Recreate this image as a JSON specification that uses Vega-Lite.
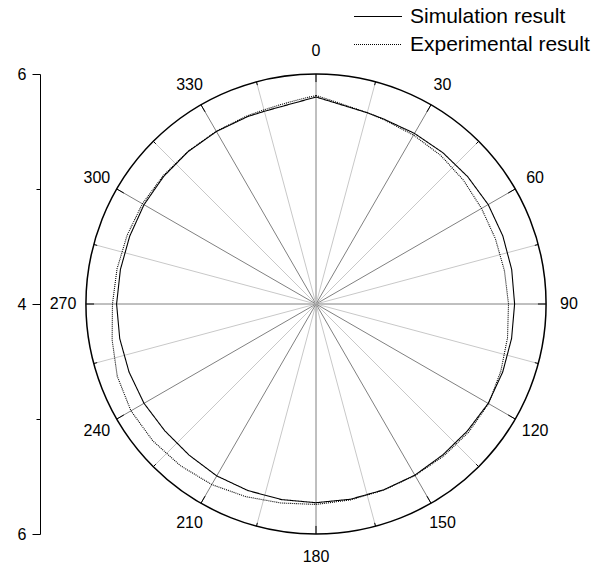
{
  "$schema": "https://vega.github.io/schema/vega-lite/v6.json",
  "width": 552,
  "height": 460,
  "autosize": {"type": "none"},
  "padding": {"left": 40, "top": 74, "right": 14, "bottom": 31},
  "background": "white",
  "config": {
    "view": {"stroke": null},
    "font": "Liberation Sans",
    "axis": {
      "grid": false,
      "domainColor": "black", "domainWidth": 1,
      "tickColor": "black", "tickWidth": 1,
      "labelFontSize": 16, "labelColor": "black", "labelFont": "Liberation Sans",
      "labelPadding": 6
    }
  },
  "datasets": {
    "curves": [
      {"series": "Simulation result", "angle": 0, "value": 5.800},
      {"series": "Simulation result", "angle": 5, "value": 5.760},
      {"series": "Simulation result", "angle": 10, "value": 5.734},
      {"series": "Simulation result", "angle": 15, "value": 5.722},
      {"series": "Simulation result", "angle": 20, "value": 5.713},
      {"series": "Simulation result", "angle": 30, "value": 5.713},
      {"series": "Simulation result", "angle": 40, "value": 5.717},
      {"series": "Simulation result", "angle": 50, "value": 5.722},
      {"series": "Simulation result", "angle": 60, "value": 5.729},
      {"series": "Simulation result", "angle": 70, "value": 5.729},
      {"series": "Simulation result", "angle": 80, "value": 5.728},
      {"series": "Simulation result", "angle": 90, "value": 5.727},
      {"series": "Simulation result", "angle": 100, "value": 5.727},
      {"series": "Simulation result", "angle": 110, "value": 5.728},
      {"series": "Simulation result", "angle": 120, "value": 5.729},
      {"series": "Simulation result", "angle": 130, "value": 5.718},
      {"series": "Simulation result", "angle": 140, "value": 5.714},
      {"series": "Simulation result", "angle": 150, "value": 5.719},
      {"series": "Simulation result", "angle": 160, "value": 5.720},
      {"series": "Simulation result", "angle": 170, "value": 5.724},
      {"series": "Simulation result", "angle": 180, "value": 5.728},
      {"series": "Simulation result", "angle": 190, "value": 5.727},
      {"series": "Simulation result", "angle": 200, "value": 5.727},
      {"series": "Simulation result", "angle": 210, "value": 5.726},
      {"series": "Simulation result", "angle": 220, "value": 5.716},
      {"series": "Simulation result", "angle": 230, "value": 5.716},
      {"series": "Simulation result", "angle": 240, "value": 5.727},
      {"series": "Simulation result", "angle": 250, "value": 5.730},
      {"series": "Simulation result", "angle": 260, "value": 5.733},
      {"series": "Simulation result", "angle": 270, "value": 5.734},
      {"series": "Simulation result", "angle": 280, "value": 5.727},
      {"series": "Simulation result", "angle": 290, "value": 5.724},
      {"series": "Simulation result", "angle": 300, "value": 5.727},
      {"series": "Simulation result", "angle": 310, "value": 5.728},
      {"series": "Simulation result", "angle": 320, "value": 5.730},
      {"series": "Simulation result", "angle": 330, "value": 5.732},
      {"series": "Simulation result", "angle": 340, "value": 5.735},
      {"series": "Simulation result", "angle": 345, "value": 5.735},
      {"series": "Simulation result", "angle": 350, "value": 5.743},
      {"series": "Simulation result", "angle": 355, "value": 5.764},
      {"series": "Simulation result", "angle": 360, "value": 5.800},
      {"series": "Experimental result", "angle": 0, "value": 5.813},
      {"series": "Experimental result", "angle": 5, "value": 5.770},
      {"series": "Experimental result", "angle": 10, "value": 5.739},
      {"series": "Experimental result", "angle": 15, "value": 5.722},
      {"series": "Experimental result", "angle": 20, "value": 5.709},
      {"series": "Experimental result", "angle": 30, "value": 5.696},
      {"series": "Experimental result", "angle": 40, "value": 5.687},
      {"series": "Experimental result", "angle": 50, "value": 5.674},
      {"series": "Experimental result", "angle": 60, "value": 5.662},
      {"series": "Experimental result", "angle": 70, "value": 5.660},
      {"series": "Experimental result", "angle": 80, "value": 5.664},
      {"series": "Experimental result", "angle": 90, "value": 5.674},
      {"series": "Experimental result", "angle": 100, "value": 5.691},
      {"series": "Experimental result", "angle": 110, "value": 5.710},
      {"series": "Experimental result", "angle": 120, "value": 5.733},
      {"series": "Experimental result", "angle": 130, "value": 5.733},
      {"series": "Experimental result", "angle": 140, "value": 5.726},
      {"series": "Experimental result", "angle": 150, "value": 5.722},
      {"series": "Experimental result", "angle": 160, "value": 5.722},
      {"series": "Experimental result", "angle": 170, "value": 5.730},
      {"series": "Experimental result", "angle": 180, "value": 5.743},
      {"series": "Experimental result", "angle": 190, "value": 5.757},
      {"series": "Experimental result", "angle": 200, "value": 5.783},
      {"series": "Experimental result", "angle": 210, "value": 5.813},
      {"series": "Experimental result", "angle": 220, "value": 5.835},
      {"series": "Experimental result", "angle": 230, "value": 5.852},
      {"series": "Experimental result", "angle": 240, "value": 5.858},
      {"series": "Experimental result", "angle": 250, "value": 5.839},
      {"series": "Experimental result", "angle": 260, "value": 5.800},
      {"series": "Experimental result", "angle": 270, "value": 5.770},
      {"series": "Experimental result", "angle": 280, "value": 5.757},
      {"series": "Experimental result", "angle": 290, "value": 5.748},
      {"series": "Experimental result", "angle": 300, "value": 5.743},
      {"series": "Experimental result", "angle": 310, "value": 5.735},
      {"series": "Experimental result", "angle": 320, "value": 5.732},
      {"series": "Experimental result", "angle": 330, "value": 5.735},
      {"series": "Experimental result", "angle": 340, "value": 5.743},
      {"series": "Experimental result", "angle": 345, "value": 5.748},
      {"series": "Experimental result", "angle": 350, "value": 5.761},
      {"series": "Experimental result", "angle": 355, "value": 5.783},
      {"series": "Experimental result", "angle": 360, "value": 5.813}
    ],
    "spokes": [
      {"angle": 0, "kind": "major"}, {"angle": 15, "kind": "minor"},
      {"angle": 30, "kind": "major"}, {"angle": 45, "kind": "minor"},
      {"angle": 60, "kind": "major"}, {"angle": 75, "kind": "minor"},
      {"angle": 90, "kind": "major"}, {"angle": 105, "kind": "minor"},
      {"angle": 120, "kind": "major"}, {"angle": 135, "kind": "minor"},
      {"angle": 150, "kind": "major"}, {"angle": 165, "kind": "minor"},
      {"angle": 180, "kind": "major"}, {"angle": 195, "kind": "minor"},
      {"angle": 210, "kind": "major"}, {"angle": 225, "kind": "minor"},
      {"angle": 240, "kind": "major"}, {"angle": 255, "kind": "minor"},
      {"angle": 270, "kind": "major"}, {"angle": 285, "kind": "minor"},
      {"angle": 300, "kind": "major"}, {"angle": 315, "kind": "minor"},
      {"angle": 330, "kind": "major"}, {"angle": 345, "kind": "minor"}
    ],
    "labels": [
      {"angle": 0}, {"angle": 30}, {"angle": 60}, {"angle": 90},
      {"angle": 120}, {"angle": 150}, {"angle": 180}, {"angle": 210},
      {"angle": 240}, {"angle": 270}, {"angle": 300}, {"angle": 330}
    ]
  },
  "layer": [
    {
      "data": {"name": "spokes"},
      "transform": [
        {"calculate": "0", "as": "x"},
        {"calculate": "0", "as": "y"},
        {"calculate": "2*sin(datum.angle*PI/180)", "as": "x2"},
        {"calculate": "2*cos(datum.angle*PI/180)", "as": "y2"}
      ],
      "mark": {"type": "rule", "strokeWidth": 1},
      "encoding": {
        "x": {"field": "x", "type": "quantitative", "scale": {"domain": [-2.4, 2.4]}, "axis": null},
        "y": {
          "field": "y", "type": "quantitative", "scale": {"domain": [-2, 2]},
          "axis": {
            "title": null, "orient": "left", "values": [-2, -1, 0, 1, 2],
            "labelExpr": "datum.value == 0 ? '4' : (abs(datum.value) == 2 ? '6' : '')",
            "labelFontSize": 16, "labelFont": "Liberation Sans", "labelColor": "black", "labelPadding": 6,
            "tickSize": {"condition": {"test": "abs(datum.value) == 1", "value": 4}, "value": 8}
          }
        },
        "x2": {"field": "x2"},
        "y2": {"field": "y2"},
        "color": {"condition": {"test": "datum.kind === 'major'", "value": "#808080"}, "value": "#c8c8c8"}
      }
    },
    {
      "data": {"name": "spokes"},
      "transform": [
        {"calculate": "datum.kind === 'major' ? 1.93 : 1.97", "as": "r0"},
        {"calculate": "datum.r0*sin(datum.angle*PI/180)", "as": "x"},
        {"calculate": "datum.r0*cos(datum.angle*PI/180)", "as": "y"},
        {"calculate": "2*sin(datum.angle*PI/180)", "as": "x2"},
        {"calculate": "2*cos(datum.angle*PI/180)", "as": "y2"}
      ],
      "mark": {"type": "rule", "strokeWidth": 1, "color": "black"},
      "encoding": {
        "x": {"field": "x", "type": "quantitative", "scale": {"domain": [-2.4, 2.4]}, "axis": null},
        "y": {
          "field": "y", "type": "quantitative", "scale": {"domain": [-2, 2]},
          "axis": {
            "title": null, "orient": "left", "values": [-2, -1, 0, 1, 2],
            "labelExpr": "datum.value == 0 ? '4' : (abs(datum.value) == 2 ? '6' : '')",
            "labelFontSize": 16, "labelFont": "Liberation Sans", "labelColor": "black", "labelPadding": 6,
            "tickSize": {"condition": {"test": "abs(datum.value) == 1", "value": 4}, "value": 8}
          }
        },
        "x2": {"field": "x2"},
        "y2": {"field": "y2"}
      }
    },
    {
      "data": {"values": [{"r": 2, "t": 1}]},
      "mark": {"type": "arc", "filled": false, "stroke": "black", "strokeWidth": 1.5},
      "encoding": {
        "theta": {"field": "t", "type": "quantitative"},
        "radius": {"field": "r", "type": "quantitative", "scale": {"type": "linear", "domain": [0, 2], "range": [0, 230]}}
      }
    },
    {
      "data": {"name": "curves"},
      "transform": [
        {"calculate": "(datum.value-4)*sin(datum.angle*PI/180)", "as": "x"},
        {"calculate": "(datum.value-4)*cos(datum.angle*PI/180)", "as": "y"}
      ],
      "mark": {"type": "line", "color": "black", "strokeWidth": 1.1},
      "encoding": {
        "x": {"field": "x", "type": "quantitative", "scale": {"domain": [-2.4, 2.4]}, "axis": null},
        "y": {
          "field": "y", "type": "quantitative", "scale": {"domain": [-2, 2]},
          "axis": {
            "title": null, "orient": "left", "values": [-2, -1, 0, 1, 2],
            "labelExpr": "datum.value == 0 ? '4' : (abs(datum.value) == 2 ? '6' : '')",
            "labelFontSize": 16, "labelFont": "Liberation Sans", "labelColor": "black", "labelPadding": 6,
            "tickSize": {"condition": {"test": "abs(datum.value) == 1", "value": 4}, "value": 8}
          }
        },
        "order": {"field": "angle", "type": "quantitative"},
        "strokeDash": {
          "field": "series", "type": "nominal",
          "scale": {"domain": ["Simulation result", "Experimental result"], "range": [[1, 0], [1, 1]]},
          "legend": {
            "title": null, "orient": "none", "legendX": 313, "legendY": -68,
            "padding": 0, "symbolType": "stroke", "symbolSize": 2304,
            "symbolStrokeColor": "black", "symbolStrokeWidth": 1.2,
            "clipHeight": 21, "rowPadding": 6, "labelOffset": 7, "labelLimit": 400,
            "labelFontSize": 21, "labelFont": "Liberation Sans", "labelColor": "black"
          }
        }
      }
    },
    {
      "data": {"name": "labels"},
      "transform": [
        {"calculate": "2.2*sin(datum.angle*PI/180)", "as": "x"},
        {"calculate": "2.2*cos(datum.angle*PI/180)", "as": "y"}
      ],
      "mark": {"type": "text", "fontSize": 16, "font": "Liberation Sans", "color": "black", "align": "center", "baseline": "middle"},
      "encoding": {
        "x": {"field": "x", "type": "quantitative", "scale": {"domain": [-2.4, 2.4]}, "axis": null},
        "y": {
          "field": "y", "type": "quantitative", "scale": {"domain": [-2, 2]},
          "axis": {
            "title": null, "orient": "left", "values": [-2, -1, 0, 1, 2],
            "labelExpr": "datum.value == 0 ? '4' : (abs(datum.value) == 2 ? '6' : '')",
            "labelFontSize": 16, "labelFont": "Liberation Sans", "labelColor": "black", "labelPadding": 6,
            "tickSize": {"condition": {"test": "abs(datum.value) == 1", "value": 4}, "value": 8}
          }
        },
        "text": {"field": "angle", "type": "quantitative", "format": "d"}
      }
    }
  ]
}
